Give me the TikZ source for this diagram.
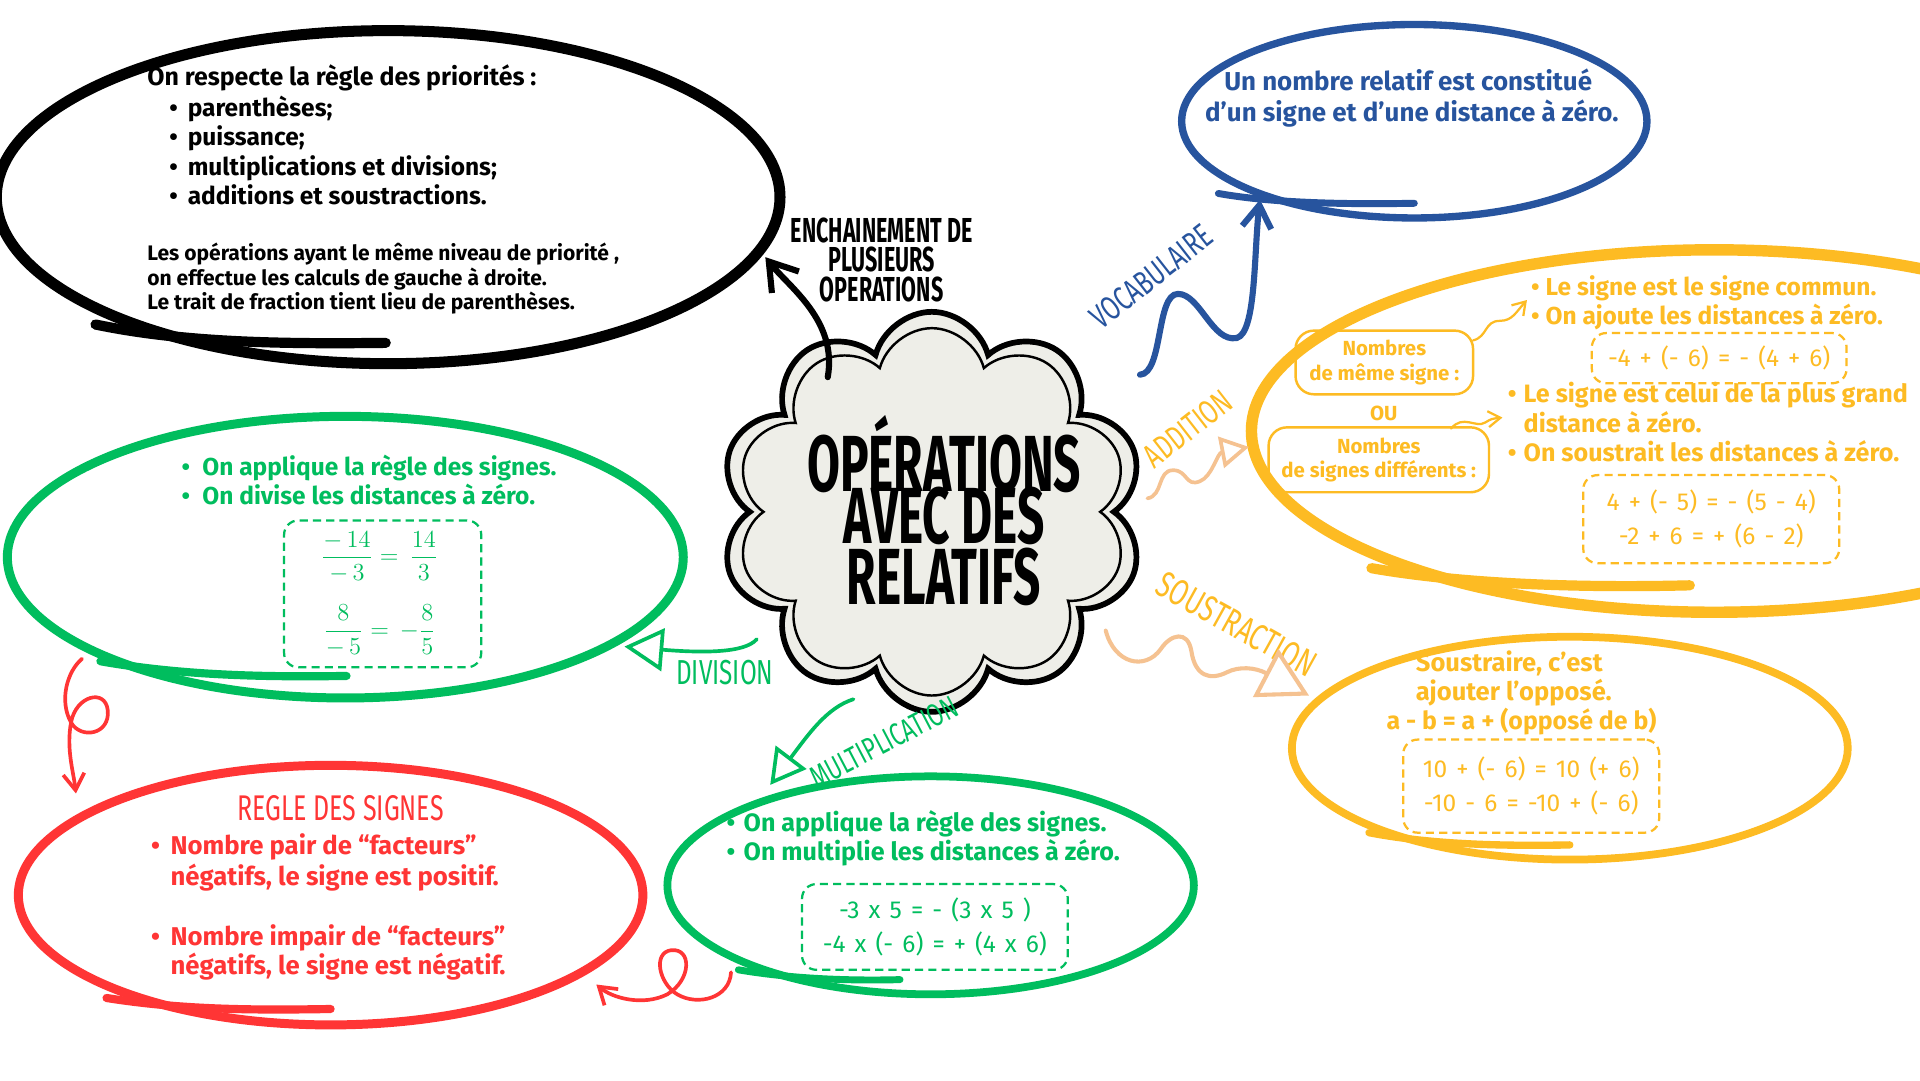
\documentclass[tikz,border=0pt]{standalone}
\usepackage{fontspec}
\usepackage{graphicx}
\setmainfont{Fira Sans}
\newfontfamily\eqfont[WordSpace=1.4]{Fira Sans}
\usetikzlibrary{shapes.geometric,shapes.symbols,arrows.meta}
\definecolor{cblue}{HTML}{27549E}
\definecolor{cyel}{HTML}{FDBB23}
\definecolor{cpeach}{HTML}{F5C291}
\definecolor{cgreen}{HTML}{00BD5E}
\definecolor{cred}{HTML}{FF3535}
\definecolor{cgray}{HTML}{EEEEE8}
\newcommand\mybul[1]{\makebox[#1][l]{•}}
\newcommand\cnd[2]{\scalebox{#1}[1]{#2}}
\tikzset{
  oval/.style={ellipse, draw, inner sep=0pt},
  tl/.style={anchor=base west, inner sep=0pt},
  tc/.style={anchor=base, inner sep=0pt},
  body/.style={font=\fontsize{#1}{#1}\selectfont\bfseries},
  labb/.style={font=\fontsize{#1}{#1}\selectfont\bfseries, inner sep=0pt},
  labr/.style={font=\fontsize{#1}{#1}\selectfont, inner sep=0pt},
  eqbox/.style={draw, dash pattern=on 4pt off 2.5pt, line width=1.1pt, rounded corners=7pt, align=center, inner sep=0pt},
  ybox/.style={draw, line width=1.2pt, rounded corners=9pt, align=center, inner sep=0pt},
  ul/.style={line cap=round},
  barb/.style={-{Straight Barb[length=#1, width=1.3*#1]}, line cap=round},
  tri/.style={-{Triangle[open, fill=white, length=#1, width=1.1*#1]}, line cap=round},
}
\begin{document}
\begin{tikzpicture}[x=0.6pt,y=-0.6pt]
\useasboundingbox (0,0) rectangle (1568,882);
\fill[white] (0,0) rectangle (1568,882);

% ---------- ellipses ----------
\node[oval, line width=5.4pt, minimum width=384pt, minimum height=163.2pt] (blackov) at (317,161) {};
\draw[ul, line width=5pt] (78,265) .. controls (150,280) and (230,281) .. (315,280);

\node[oval, cblue, line width=3.6pt, minimum width=228pt, minimum height=94.8pt] (blueov) at (1155,99) {};
\draw[ul, cblue, line width=3.4pt] (995,158) .. controls (1040,166) and (1100,167) .. (1155,166);

\node[oval, cyel, line width=5.6pt, minimum width=453.6pt, minimum height=177.6pt] (addov) at (1400,352) {};
\draw[ul, cyel, line width=5pt] (1120,464) .. controls (1200,478) and (1300,480) .. (1380,478);

\node[oval, cyel, line width=3.8pt, minimum width=272.4pt, minimum height=109.2pt] (sousov) at (1282,611) {};
\draw[ul, cyel, line width=3.6pt] (1118,680) .. controls (1170,690) and (1230,691) .. (1282,690);

\node[oval, cgreen, line width=4.4pt, minimum width=331.2pt, minimum height=138pt] (divov) at (282,455) {};
\draw[ul, cgreen, line width=4pt] (82,540) .. controls (150,552) and (220,553) .. (283,552);

\node[oval, cgreen, line width=3.8pt, minimum width=258pt, minimum height=106.8pt] (multov) at (760,723) {};
\draw[ul, cgreen, line width=3.4pt] (603,792) .. controls (650,800) and (700,801) .. (735,800);

\node[oval, cred, line width=4.4pt, minimum width=306pt, minimum height=127.2pt] (redov) at (270,731) {};
\draw[ul, cred, line width=4pt] (87,815) .. controls (150,825) and (210,825) .. (270,824);

% ---------- cloud ----------
\node[cloud, cloud puffs=10, aspect=1, draw, fill=cgray, line width=2.8pt, minimum width=208pt, minimum height=196pt, inner sep=0pt] (cloudout) at (761,418) {};
\node[cloud, cloud puffs=10, aspect=1, draw, line width=1.2pt, minimum width=192pt, minimum height=180pt, inner sep=0pt] (cloudin) at (761,418) {};
\node[labb=39] (title1) at (771,371) {\cnd{0.6}{OPÉRATIONS}};
\node[labb=39] (title2) at (771,421) {\cnd{0.6}{AVEC DES}};
\node[labb=39] (title3) at (771,471) {\cnd{0.6}{RELATIFS}};

% ---------- black block ----------
\node[tl, body=12.2] (b0) at (120,70) {On respecte la règle des priorités :};
\node[tl, body=12] (b1) at (138,95) {\mybul{9pt}parenthèses;};
\node[tl, body=12] (b2) at (138,119) {\mybul{9pt}puissance;};
\node[tl, body=12] (b3) at (138,143) {\mybul{9pt}multiplications et divisions;};
\node[tl, body=12] (b4) at (138,167) {\mybul{9pt}additions et soustractions.};
\node[tl, body=10.3] (b5) at (120,213) {Les opérations ayant le même niveau de priorité ,};
\node[tl, body=10.3] (b6) at (120,233) {on effectue les calculs de gauche à droite.};
\node[tl, body=10.3] (b7) at (120,253) {Le trait de fraction tient lieu de parenthèses.};

\node[labb=17] (ench1) at (720,188) {\cnd{0.62}{ENCHAINEMENT DE}};
\node[labb=17] (ench2) at (720,212) {\cnd{0.62}{PLUSIEURS}};
\node[labb=17] (ench3) at (720,236) {\cnd{0.62}{OPERATIONS}};
\coordinate (kA) at (676,308);
\coordinate (kB) at (625,210);
\draw[barb=13pt, line width=3pt] (kA) .. controls (684,262) and (645,235) .. (kB);

% ---------- blue block ----------
\node[tc, body=12.7, cblue] (v1) at (1150,74) {Un nombre relatif est constitué};
\node[tc, body=12.7, cblue] (v2) at (1153,99) {d’un signe et d’une distance à zéro.};
\node[labr=16.5, cblue, rotate=38] (vocab) at (940,226) {\cnd{0.7}{VOCABULAIRE}};
\coordinate (vA) at (931,306);
\coordinate (vB) at (1029,163);
\draw[cblue, barb=11pt, line width=3pt] (vA) .. controls (950,305) and (944,240) .. (962,240) .. controls (980,240) and (990,280) .. (1010,276) .. controls (1026,272) and (1024,205) .. (vB);

% ---------- addition block ----------
\node[labr=16.5, cyel, rotate=38] (addlab) at (970,350) {\cnd{0.7}{ADDITION}};
\coordinate (aA) at (937,407);
\coordinate (aB) at (1020,365);
\draw[cpeach, tri=14pt, line width=1.8pt] (aA) .. controls (950,405) and (945,384) .. (958,384) .. controls (970,384) and (968,398) .. (980,393) .. controls (990,389) and (994,370) .. (aB);

\node[ybox, cyel, minimum width=87pt, minimum height=31.2pt, font=\fontsize{10}{12.6}\selectfont\bfseries] (nb1) at (1130.5,296) {Nombres\\de même signe :};
\node[tc, body=10, cyel] (ou) at (1130,343) {OU};
\node[ybox, cyel, minimum width=108pt, minimum height=31.8pt, font=\fontsize{10}{12}\selectfont\bfseries] (nb2) at (1126,375.5) {Nombres\\de signes différents :};
\coordinate (w1A) at (1203,278);
\coordinate (w1B) at (1247,245);
\draw[cyel, barb=6pt, line width=1.1pt] (w1A) .. controls (1215,275) and (1212,262) .. (1225,262) .. controls (1235,262) and (1238,255) .. (w1B);
\coordinate (w2A) at (1185,350);
\coordinate (w2B) at (1227,341);
\draw[cyel, barb=6pt, line width=1.1pt] (w2A) .. controls (1195,338) and (1205,350) .. (1213,345) .. controls (1218,342) .. (w2B);

\node[tl, body=12, cyel] (y1) at (1250,241) {\mybul{7.2pt}Le signe est le signe commun.};
\node[tl, body=12, cyel] (y2) at (1250,265) {\mybul{7.2pt}On ajoute les distances à zéro.};
\node[eqbox, cyel, minimum width=124.8pt, minimum height=24.6pt, font=\eqfont\fontsize{12}{16.8}\selectfont] (eq1) at (1404,292.5) {-4 + (- 6) = - (4 + 6)};
\node[tl, body=12.3, cyel] (y3) at (1231,329) {\mybul{7.8pt}Le signe est celui de la plus grand};
\node[tl, body=12.3, cyel] (y4) at (1244,353) {distance à zéro.};
\node[tl, body=12.3, cyel] (y5) at (1231,377) {\mybul{7.8pt}On soustrait les distances à zéro.};
\node[eqbox, cyel, minimum width=125.4pt, minimum height=43.2pt, font=\eqfont\fontsize{12}{16.8}\selectfont] (eq2) at (1397.5,424) {4 + (- 5) = - (5 - 4)\\-2 + 6 = + (6 - 2)};

% ---------- soustraction block ----------
\node[labr=18, cyel, rotate=-29] (souslab) at (1010,510) {\cnd{0.7}{SOUSTRACTION}};
\coordinate (sA) at (903,515);
\coordinate (sB) at (1069,568);
\draw[cpeach, tri=24pt, line width=2pt] (sA) .. controls (910,542) and (935,548) .. (948,530) .. controls (956,518) and (970,514) .. (973,532) .. controls (976,552) and (988,556) .. (1002,549) .. controls (1012,544) and (1025,545) .. (sB);
\node[tl, body=12.5, cyel] (s1) at (1156,548) {Soustraire, c’est};
\node[tl, body=12.5, cyel] (s2) at (1156,572) {ajouter l’opposé.};
\node[tl, body=12.2, cyel] (s3) at (1132,596) {a - b = a + (opposé de b)};
\node[eqbox, cyel, minimum width=125.4pt, minimum height=45.6pt, font=\eqfont\fontsize{12}{16.8}\selectfont] (eq3) at (1250.5,642) {10 + (- 6) = 10 (+ 6)\\-10 - 6 = -10 + (- 6)};

% ---------- division block ----------
\node[tl, body=12, cgreen] (d1) at (148,388) {\mybul{10.2pt}On applique la règle des signes.};
\node[tl, body=12, cgreen] (d2) at (148,412) {\mybul{10.2pt}On divise les distances à zéro.};
\node[eqbox, cgreen, minimum width=96.6pt, minimum height=72pt] (eq4) at (312.5,485) {};
\node[cgreen, font=\fontsize{11.5}{13}\selectfont, inner sep=0pt] (f1) at (310,455) {$\displaystyle\frac{-\,14}{-\,3}=\,\frac{14}{3}$};
\node[cgreen, font=\fontsize{11.5}{13}\selectfont, inner sep=0pt] (f2) at (310,515) {$\displaystyle\frac{8}{-\,5}=\,-\frac{8}{5}$};
\node[labr=17, cgreen] (divlab) at (592,549) {\cnd{0.7}{DIVISION}};
\coordinate (dA) at (618,522);
\coordinate (dB) at (510,528);
\draw[cgreen, tri=19pt, line width=1.8pt] (dA) .. controls (608,534) and (570,533) .. (dB);

% ---------- multiplication block ----------
\node[labr=15.5, cgreen, rotate=27.6] (multlab) at (722,606) {\cnd{0.7}{MULTIPLICATION}};
\coordinate (mA) at (697,571);
\coordinate (mB) at (629,641);
\draw[cgreen, tri=17pt, line width=1.8pt] (mA) .. controls (675,578) and (660,600) .. (mB);
\node[tl, body=12.3, cgreen] (m1) at (593,679) {\mybul{8.4pt}On applique la règle des signes.};
\node[tl, body=12.3, cgreen] (m2) at (593,703) {\mybul{8.4pt}On multiplie les distances à zéro.};
\node[eqbox, cgreen, minimum width=130.2pt, minimum height=42pt, font=\eqfont\fontsize{12}{16.8}\selectfont] (eq5) at (763.5,757) {-3 x 5 = - (3 x 5 )\\-4 x (- 6) = + (4 x 6)};

% ---------- regle des signes ----------
\node[labr=17.5, cred] (redlab) at (278,660) {\cnd{0.7}{REGLE DES SIGNES}};
\node[tl, body=12.6, cred] (r1) at (123,698) {\mybul{9.6pt}Nombre pair de “facteurs”};
\node[tl, body=12.6, cred] (r2) at (139,723) {négatifs, le signe est positif.};
\node[tl, body=12.6, cred] (r3) at (123,772) {\mybul{9.6pt}Nombre impair de “facteurs”};
\node[tl, body=12.6, cred] (r4) at (139,796) {négatifs, le signe est négatif.};

\coordinate (rA) at (67,538);
\coordinate (rB) at (62,648);
\draw[cred, barb=8pt, line width=1.8pt] (rA) .. controls (55,548) and (48,572) .. (58,590) .. controls (66,604) and (90,600) .. (88,580) .. controls (86,562) and (62,568) .. (58,590) .. controls (54,612) and (60,630) .. (rB);
\coordinate (qA) at (597,794);
\coordinate (qB) at (487,804);
\draw[cred, barb=8pt, line width=1.8pt] (qA) .. controls (596,815) and (570,822) .. (553,812) .. controls (538,803) and (533,778) .. (548,776) .. controls (565,774) and (565,800) .. (545,812) .. controls (525,822) and (500,815) .. (qB);
\end{tikzpicture}
\end{document}
